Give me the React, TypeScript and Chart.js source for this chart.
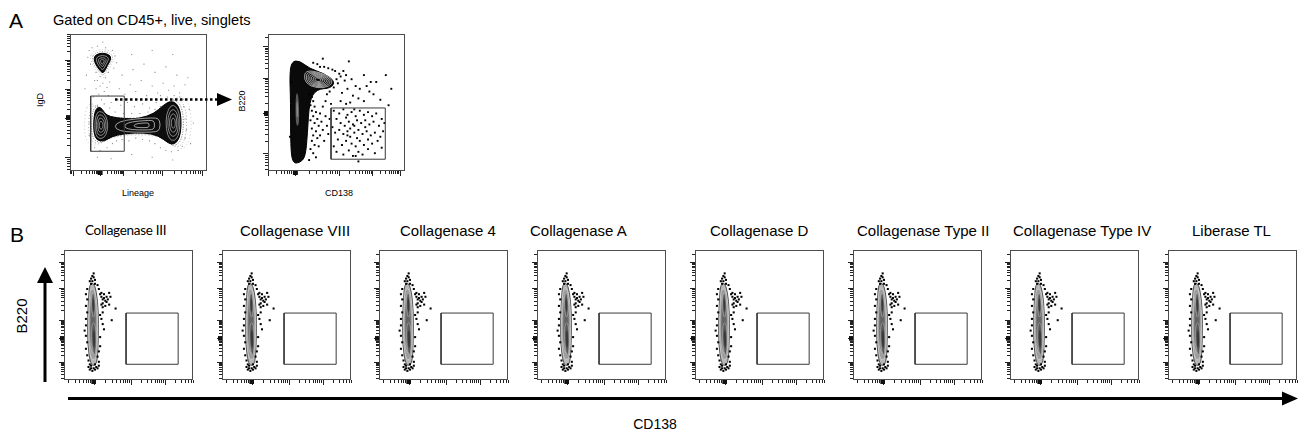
import React, { useEffect, useRef } from "react";
import { Chart, registerables } from "chart.js";

Chart.register(...registerables);

type Pt = [number, number];

/* ---------------- Panel A · plot 1 : IgD vs Lineage (axis units 0–100) ---------------- */
const A1_TOP_BLOB: Pt[] = [[18.7, 84.9], [23.7, 86.3], [28.8, 84.9], [30.2, 82.0], [27.3, 77.0], [24.5, 71.2], [22.3, 72.7], [18.7, 77.7], [17.3, 82.0]];
const A1_DUMBBELL: Pt[] = [[19.4, 46.0], [22.3, 46.8], [25.2, 42.4], [28.8, 39.6], [39.6, 38.1], [50.4, 38.1], [61.2, 41.7], [68.3, 48.2], [73.4, 51.1], [77.7, 49.6], [80.6, 43.9], [81.3, 33.1], [79.9, 23.7], [76.3, 19.4], [71.9, 20.1], [64.7, 25.9], [54.0, 28.1], [39.6, 27.3], [30.2, 25.2], [25.2, 21.6], [19.4, 22.3], [17.3, 28.1], [17.3, 36.7], [18.0, 42.4]];
const A1_LEFT_BLOB: Pt[] = [[19.4, 45.3], [23.7, 45.3], [27.3, 41.0], [28.8, 33.1], [27.3, 25.2], [23.7, 21.6], [19.4, 22.3], [17.3, 28.1], [17.3, 38.1]];
const A1_RIGHT_BLOB: Pt[] = [[73.4, 51.1], [77.7, 49.6], [80.6, 43.9], [81.3, 33.1], [79.9, 23.7], [76.3, 19.4], [71.9, 20.9], [69.1, 29.5], [69.1, 42.4]];
const A1_BRIDGE: Pt[] = [[27.3, 37.4], [64.7, 41.0], [69.1, 38.1], [69.1, 29.5], [64.7, 26.6], [27.3, 27.3]];
const A1_EVENTS: Pt[] = [
  [14, 88], [16, 90], [20, 91], [26, 90], [31, 88], [33, 84], [34, 79], [32, 75], [15, 78], [13, 83], [19, 72], [28, 72],
  [22, 69], [26, 68], [20, 66], [24, 64], [22, 62], [27, 61], [19, 60], [25, 58], [21, 56], [28, 55], [23, 52], [17, 54],
  [30, 50], [35, 52], [12, 70], [11, 60], [36, 60], [40, 56], [44, 63], [48, 58], [52, 66], [56, 55], [60, 62], [64, 57],
  [68, 64], [72, 59], [76, 62], [80, 57], [84, 63], [38, 70], [46, 74], [54, 78], [62, 72], [70, 76], [78, 70], [86, 68],
  [42, 50], [47, 47], [53, 49], [58, 46], [63, 50], [66, 55], [83, 52], [87, 45], [45, 85], [60, 88], [75, 85], [15, 44],
  [14, 35], [14, 26], [15, 18], [18, 17], [22, 15], [27, 17], [31, 20], [34, 22], [38, 23], [43, 22], [48, 24], [53, 23],
  [58, 22], [62, 20], [66, 17], [70, 15], [74, 14], [79, 15], [82, 18], [84, 24], [85, 30], [84, 38], [83, 47], [80, 54],
  [76, 55], [71, 54], [66, 47], [62, 45], [57, 43], [51, 42], [45, 42], [39, 42], [33, 43], [29, 46], [25, 49], [20, 48],
  [20, 10], [30, 9], [45, 12], [60, 10], [75, 8], [88, 20], [90, 35], [24, 94], [18, 66], [29, 65], [37, 48], [55, 52]
];
const A1_GATE = [15.1, 14.4, 39.6, 54.7];
const A1_X_MAJOR = [2, 22, 39, 67, 96];
const A1_X_ZERO = 22;
const A1_Y_MAJOR = [10, 39, 60, 81];
const A1_Y_ZERO = 39;

/* ---------------- Panel A · plot 2 : B220 vs CD138 ---------------- */
const A2_MAIN: Pt[] = [[17.3, 79.9], [23.0, 80.6], [30.2, 74.8], [41.0, 71.2], [48.9, 65.5], [46.0, 60.4], [35.3, 59.7], [30.2, 51.1], [28.8, 27.3], [27.3, 10.1], [23.0, 5.8], [18.0, 5.8], [16.5, 17.3], [16.5, 51.1], [15.8, 70.5]];
const A2_LOBE: Pt[] = [[26.6, 74.1], [37.4, 72.7], [46.8, 68.3], [48.2, 63.3], [41.0, 59.7], [30.2, 61.2], [25.2, 66.9]];
const A2_STREAK: Pt[] = [[20.1, 56.8], [22.3, 56.8], [23.0, 33.1], [20.1, 33.1]];
const A2_EVENTS: Pt[] = [
  [33, 79], [36, 78], [38, 76], [41, 76], [44, 75], [47, 74], [49, 73], [52, 71], [55, 73], [57, 70], [53, 69], [59, 80],
  [50, 67], [56, 66], [61, 67], [64, 62], [58, 60], [51, 64], [48, 61], [45, 58], [43, 56], [42, 51], [46, 49], [53, 51],
  [57, 49], [70, 51], [74, 58], [77, 56], [75, 65], [79, 65], [82, 52], [67, 60], [72, 62], [62, 55], [66, 53], [60, 50],
  [54, 57], [63, 45], [30, 56], [32, 54], [33, 51], [31, 48], [34, 47], [32, 44], [35, 43], [33, 40], [36, 38], [31, 37],
  [34, 35], [37, 33], [32, 31], [35, 29], [33, 26], [36, 24], [32, 22], [34, 19], [31, 16], [33, 13], [35, 10], [30, 8],
  [38, 42], [39, 36], [40, 30], [38, 26], [41, 22], [37, 18], [40, 47], [42, 40], [43, 33], [44, 27], [48, 44], [52, 42],
  [55, 45], [58, 41], [61, 43], [64, 40], [67, 44], [70, 41], [73, 43], [76, 40], [79, 42], [83, 38], [85, 35], [81, 33],
  [77, 36], [74, 34], [71, 37], [68, 35], [65, 37], [62, 34], [59, 36], [56, 33], [53, 35], [50, 38], [47, 32], [49, 28],
  [52, 30], [55, 27], [58, 29], [60, 25], [63, 28], [66, 30], [69, 27], [72, 29], [75, 26], [78, 28], [82, 25], [84, 29],
  [80, 22], [76, 20], [73, 23], [70, 19], [67, 22], [64, 18], [61, 20], [57, 22], [54, 19], [51, 23], [48, 18], [50, 14],
  [55, 12], [59, 15], [62, 11], [66, 14], [69, 12], [73, 16], [78, 13], [83, 17], [57, 39], [60, 31], [65, 24], [71, 32],
  [58, 26], [63, 33], [64, 11], [66, 7], [17, 65], [16, 25], [88, 48], [90, 60], [86, 70], [70, 70], [40, 82], [45, 38]
];
const A2_GATE = [46.0, 8.6, 85.6, 46.0];
const A2_X_MAJOR = [0, 20, 52, 76, 96];
const A2_X_ZERO = 20;
const A2_Y_MAJOR = [13, 42, 68, 91];
const A2_Y_ZERO = 42;

/* ---------------- Panel B : B220 vs CD138 per enzyme ---------------- */
const B_TITLES = ["Collagenase III", "Collagenase VIII", "Collagenase 4", "Collagenase A", "Collagenase D", "Collagenase Type II", "Collagenase Type IV", "Liberase TL"];
const B_CLOUD: Pt[] = [[19.8, 73.5], [22.9, 75.0], [25.2, 68.2], [26.7, 53.0], [26.7, 34.1], [26.0, 15.2], [23.7, 10.6], [20.6, 12.1], [18.3, 26.5], [18.3, 49.2], [19.1, 64.4]];
const B_SPOT_UPPER: Pt[] = [[21.4, 66.7], [23.7, 66.7], [24.4, 53.0], [22.9, 47.0], [21.4, 53.0]];
const B_SPOT_LOWER: Pt[] = [[21.4, 43.9], [24.4, 43.9], [25.2, 26.5], [23.7, 16.7], [21.4, 26.5]];
const B_EVENTS: Pt[] = [
  [20, 76], [21, 78], [22, 80], [23, 79], [24, 77], [22, 76], [21, 74], [24, 74], [23, 82],
  [18, 70], [17, 66], [18, 62], [17, 57], [18, 52], [17, 47], [17, 42], [16, 38], [17, 34], [18, 29], [17, 24], [18, 19], [19, 15],
  [19, 10], [20, 8], [21, 9], [22, 7], [23, 9], [24, 8], [25, 10], [26, 9], [21, 11], [24, 12], [27, 11], [20, 12],
  [27, 70], [26, 73], [28, 66], [29, 64], [30, 62], [31, 63], [32, 61], [33, 60], [34, 62], [30, 59], [32, 57], [29, 58],
  [35, 58], [33, 64], [31, 66], [36, 64], [29, 67], [35, 67], [30, 56],
  [37, 46], [29, 47], [30, 43], [31, 39], [28, 33], [28, 26], [27, 22], [26, 18], [27, 14], [28, 50], [30, 52], [40, 55]
];
const B_GATE = [48.1, 12.1, 88.5, 51.5];
const B_X_MAJOR = [-5, 23, 52, 78];
const B_X_ZERO = 23;
const B_Y_MAJOR = [14, 32, 46, 71, 91];
const B_Y_ZERO = 32;

/* ---------------- layout / style ---------------- */
const FONT = '"Liberation Sans", Arial, Helvetica, sans-serif';
const PAD = { left: 8, right: 2, top: 2, bottom: 8 };
const B_TITLE_LEFT = [85, 240, 400, 530, 710, 857, 1013, 1192];

type Layer = { s: number; fill?: string; stroke?: string; lw?: number; dash?: number[] };
type Poly = { pts: Pt[]; layers: Layer[] };
type Dots = { pts: Pt[]; r: number; color: string };
type Spec = {
  polys: Poly[];
  dots: Dots[];
  gate: number[];
  xMajor: number[]; xZero: number;
  yMajor: number[]; yZero: number;
};

function smoothPath(ctx: CanvasRenderingContext2D, p: { x: number; y: number }[]) {
  const n = p.length;
  const mid = (a: any, b: any) => ({ x: (a.x + b.x) / 2, y: (a.y + b.y) / 2 });
  const m0 = mid(p[n - 1], p[0]);
  ctx.beginPath();
  ctx.moveTo(m0.x, m0.y);
  for (let i = 0; i < n; i++) {
    const a = p[i];
    const m = mid(a, p[(i + 1) % n]);
    ctx.quadraticCurveTo(a.x, a.y, m.x, m.y);
  }
  ctx.closePath();
}

const contourPlugin = {
  id: "flowContours",
  beforeDatasetsDraw(chart: any) {
    const ctx: CanvasRenderingContext2D = chart.ctx;
    const a = chart.chartArea;
    ctx.save();
    ctx.beginPath();
    ctx.rect(a.left, a.top, a.right - a.left, a.bottom - a.top);
    ctx.clip();
    chart.data.datasets.forEach((ds: any, i: number) => {
      if (!ds.layers) return;
      const meta = chart.getDatasetMeta(i);
      const pts = meta.data.map((e: any) => ({ x: e.x, y: e.y }));
      const cx = pts.reduce((s: number, p: any) => s + p.x, 0) / pts.length;
      const cy = pts.reduce((s: number, p: any) => s + p.y, 0) / pts.length;
      ds.layers.forEach((L: Layer) => {
        const q = pts.map((p: any) => ({ x: cx + (p.x - cx) * L.s, y: cy + (p.y - cy) * L.s }));
        smoothPath(ctx, q);
        if (L.fill) {
          ctx.fillStyle = L.fill;
          ctx.fill();
        }
        if (L.stroke) {
          ctx.setLineDash(L.dash || []);
          ctx.lineWidth = L.lw ?? 1;
          ctx.strokeStyle = L.stroke;
          ctx.stroke();
        }
      });
    });
    ctx.restore();
  },
};

function tickSet(majors: number[]) {
  const ext = [majors[0] - (majors[1] - majors[0]), ...majors, majors[majors.length - 1] + (majors[majors.length - 1] - majors[majors.length - 2])];
  const out: { v: number; major: boolean }[] = [];
  for (let i = 0; i < ext.length - 1; i++) {
    const a = ext[i], b = ext[i + 1];
    out.push({ v: a, major: true });
    for (let k = 2; k <= 9; k++) out.push({ v: a + (b - a) * Math.log10(k), major: false });
  }
  return out.filter((t) => t.v >= 0 && t.v <= 100);
}

function axesPlugin(spec: Spec) {
  return {
    id: "flowAxes",
    afterDatasetsDraw(chart: any) {
      const ctx: CanvasRenderingContext2D = chart.ctx;
      const a = chart.chartArea;
      const x = chart.scales.x, y = chart.scales.y;
      ctx.save();
      ctx.strokeStyle = "#4d4d4d";
      ctx.lineWidth = 1;
      ctx.strokeRect(a.left + 0.5, a.top + 0.5, a.right - a.left - 1, a.bottom - a.top - 1);
      ctx.strokeStyle = "#222";
      ctx.beginPath();
      for (const t of tickSet(spec.xMajor)) {
        const px = Math.round(x.getPixelForValue(t.v)) + 0.5;
        ctx.moveTo(px, a.bottom);
        ctx.lineTo(px, a.bottom + (t.major ? 5 : 3));
      }
      for (const t of tickSet(spec.yMajor)) {
        const py = Math.round(y.getPixelForValue(t.v)) + 0.5;
        ctx.moveTo(a.left, py);
        ctx.lineTo(a.left - (t.major ? 5 : 3), py);
      }
      ctx.stroke();
      ctx.fillStyle = "#111";
      const zx0 = x.getPixelForValue(spec.xZero - 1.8), zx1 = x.getPixelForValue(spec.xZero + 1.8);
      ctx.fillRect(zx0, a.bottom, zx1 - zx0, 4);
      const zy0 = y.getPixelForValue(spec.yZero + 1.8), zy1 = y.getPixelForValue(spec.yZero - 1.8);
      ctx.fillRect(a.left - 4, zy0, 4, zy1 - zy0);
      ctx.restore();
    },
  };
}

const toXY = (pts: Pt[]) => pts.map(([x, y]) => ({ x, y }));

function buildChart(canvas: HTMLCanvasElement, spec: Spec) {
  const [gx0, gy0, gx1, gy1] = spec.gate;
  const datasets: any[] = [
    {
      data: toXY([[gx0, gy0], [gx1, gy0], [gx1, gy1], [gx0, gy1], [gx0, gy0]]),
      showLine: true,
      borderColor: "#3a3a3a",
      borderWidth: 1,
      pointRadius: 0,
      tension: 0,
    },
    ...spec.dots.map((d) => ({
      data: toXY(d.pts),
      pointStyle: "rect",
      pointRadius: d.r,
      backgroundColor: d.color,
      borderWidth: 0,
    })),
    ...spec.polys.map((p) => ({
      data: toXY(p.pts),
      pointRadius: 0,
      showLine: false,
      layers: p.layers,
    })),
  ];
  return new Chart(canvas, {
    type: "scatter",
    data: { datasets },
    options: {
      animation: false,
      responsive: false,
      devicePixelRatio: 1,
      events: [],
      layout: { padding: PAD },
      scales: {
        x: { type: "linear", min: 0, max: 100, display: false },
        y: { type: "linear", min: 0, max: 100, display: false },
      },
      plugins: { legend: { display: false }, tooltip: { enabled: false } },
    },
    plugins: [contourPlugin, axesPlugin(spec)],
  } as any);
}

const whiteRings = (scales: number[], lw = 0.6): Layer[] => scales.map((s) => ({ s, stroke: "#fff", lw }));

const SPEC_A1: Spec = {
  polys: [
    {
      pts: A1_DUMBBELL,
      layers: [
        { s: 1.22, stroke: "#c4c4c4", lw: 1, dash: [1, 2.5] },
        { s: 1.12, stroke: "#a0a0a0", lw: 1, dash: [1, 2] },
        { s: 1.05, stroke: "#6a6a6a", lw: 1, dash: [1, 1.5] },
        { s: 1, fill: "#0d0d0d", stroke: "#000", lw: 1 },
      ],
    },
    { pts: A1_LEFT_BLOB, layers: whiteRings([0.84, 0.64, 0.44, 0.24], 0.5) },
    { pts: A1_RIGHT_BLOB, layers: whiteRings([0.84, 0.64, 0.44, 0.24], 0.5) },
    { pts: A1_BRIDGE, layers: whiteRings([0.78, 0.52, 0.26], 0.6) },
    {
      pts: A1_TOP_BLOB,
      layers: [
        { s: 1.45, stroke: "#c0c0c0", lw: 1, dash: [1, 2] },
        { s: 1.2, stroke: "#8a8a8a", lw: 1, dash: [1, 1.5] },
        { s: 1, fill: "#0d0d0d", stroke: "#000", lw: 1 },
        ...whiteRings([0.72, 0.46, 0.24], 0.5),
      ],
    },
  ],
  dots: [{ pts: A1_EVENTS, r: 0.75, color: "#8a8a8a" }],
  gate: A1_GATE,
  xMajor: A1_X_MAJOR, xZero: A1_X_ZERO,
  yMajor: A1_Y_MAJOR, yZero: A1_Y_ZERO,
};

const SPEC_A2: Spec = {
  polys: [
    { pts: A2_MAIN, layers: [{ s: 1, fill: "#0a0a0a", stroke: "#000", lw: 1 }] },
    { pts: A2_LOBE, layers: whiteRings([0.92, 0.8, 0.68, 0.56, 0.44, 0.32, 0.2], 0.6) },
    { pts: A2_STREAK, layers: [{ s: 1, fill: "#5a5a5a" }, { s: 0.5, fill: "#8a8a8a" }] },
  ],
  dots: [{ pts: A2_EVENTS, r: 1.35, color: "#000" }],
  gate: A2_GATE,
  xMajor: A2_X_MAJOR, xZero: A2_X_ZERO,
  yMajor: A2_Y_MAJOR, yZero: A2_Y_ZERO,
};

const SPEC_B: Spec = {
  polys: [
    {
      pts: B_CLOUD,
      layers: [
        { s: 1, fill: "#b8b8b8", stroke: "#333", lw: 0.8 },
        { s: 0.86, fill: "#9c9c9c", stroke: "#eee", lw: 0.4 },
        { s: 0.7, fill: "#868686", stroke: "#e6e6e6", lw: 0.4 },
        { s: 0.52, fill: "#747474" },
        { s: 0.34, fill: "#646464" },
      ],
    },
    { pts: B_SPOT_UPPER, layers: [{ s: 1, fill: "#5a5a5a", stroke: "#ddd", lw: 0.4 }, { s: 0.55, fill: "#3a3a3a" }] },
    { pts: B_SPOT_LOWER, layers: [{ s: 1, fill: "#5a5a5a", stroke: "#ddd", lw: 0.4 }, { s: 0.55, fill: "#3a3a3a" }] },
  ],
  dots: [{ pts: B_EVENTS, r: 1.45, color: "#000" }],
  gate: B_GATE,
  xMajor: B_X_MAJOR, xZero: B_X_ZERO,
  yMajor: B_Y_MAJOR, yZero: B_Y_ZERO,
};

function FlowPlot({ left, top, w, h, spec }: { left: number; top: number; w: number; h: number; spec: Spec }) {
  const ref = useRef<HTMLCanvasElement>(null);
  useEffect(() => {
    const chart = buildChart(ref.current as HTMLCanvasElement, spec);
    return () => chart.destroy();
  }, [spec]);
  const cw = w + PAD.left + PAD.right;
  const ch = h + PAD.top + PAD.bottom;
  return (
    <canvas
      ref={ref}
      width={cw}
      height={ch}
      style={{ position: "absolute", left: left - PAD.left, top: top - PAD.top, width: cw, height: ch }}
    />
  );
}

function Label({ x, y, size, text, rotate, font }: { x: number; y: number; size: number; text: string; rotate?: boolean; font?: string }) {
  return (
    <div
      style={{
        position: "absolute",
        left: x,
        top: y,
        transform: `translate(-50%, -50%)${rotate ? " rotate(-90deg)" : ""}`,
        fontFamily: font || FONT,
        fontSize: size,
        lineHeight: 1,
        whiteSpace: "nowrap",
        color: "#000",
      }}
    >
      {text}
    </div>
  );
}

function TopText({ x, top, size, text, font, spacing }: { x: number; top: number; size: number; text: string; font?: string; spacing?: number }) {
  return (
    <div
      style={{
        position: "absolute",
        left: x,
        top,
        fontFamily: font || FONT,
        fontSize: size,
        lineHeight: `${size}px`,
        whiteSpace: "nowrap",
        letterSpacing: spacing || 0,
        color: "#000",
      }}
    >
      {text}
    </div>
  );
}

export default function App() {
  return (
    <div style={{ position: "absolute", left: 0, top: 0, width: 1302, height: 434, background: "#fff", overflow: "hidden" }}>
      {/* Panel A */}
      <TopText x={9} top={10} size={21} text="A" />
      <TopText x={53} top={13} size={14.6} text="Gated on CD45+, live, singlets" />
      <FlowPlot left={70} top={32} w={139} h={139} spec={SPEC_A1} />
      <FlowPlot left={268} top={32} w={139} h={139} spec={SPEC_A2} />
      <Label x={40} y={100} size={9} text="IgD" rotate />
      <Label x={138} y={193} size={9} text="Lineage" />
      <Label x={242} y={101} size={9} text="B220" rotate />
      <Label x={339} y={193} size={9} text="CD138" />

      {/* Panel B */}
      <TopText x={10} top={224} size={21} text="B" />
      {B_TITLES.map((t, i) => (
        <TopText
          key={t}
          x={B_TITLE_LEFT[i]}
          top={i === 0 ? 224 : 223}
          size={i === 0 ? 13.5 : 15}
          text={t}
          font={i === 0 ? 'Lato, "Open Sans", sans-serif' : FONT}
          spacing={i === 0 ? -0.3 : 0}
        />
      ))}
      {B_TITLES.map((t, i) => (
        <FlowPlot key={"p" + t} left={64 + Math.round(i * 157.7)} top={248} w={131} h={132} spec={SPEC_B} />
      ))}
      <Label x={21} y={316} size={15} text="B220" rotate />
      <Label x={655} y={424} size={14} text="CD138" />

      <svg width={1302} height={434} style={{ position: "absolute", left: 0, top: 0, pointerEvents: "none" }}>
        <line x1={115} y1={99.5} x2={218} y2={99.5} stroke="#000" strokeWidth={2.5} strokeDasharray="2.5 2.5" />
        <polygon points="217,93 232,99.5 217,106" fill="#000" />
        <line x1={45} y1={280} x2={45} y2={382} stroke="#000" strokeWidth={3} />
        <polygon points="37,283 45,267 53,283" fill="#000" />
        <line x1={68} y1={398.5} x2={1284} y2={398.5} stroke="#000" strokeWidth={3} />
        <polygon points="1282,391.5 1298,398.5 1282,405.5" fill="#000" />
      </svg>
    </div>
  );
}
